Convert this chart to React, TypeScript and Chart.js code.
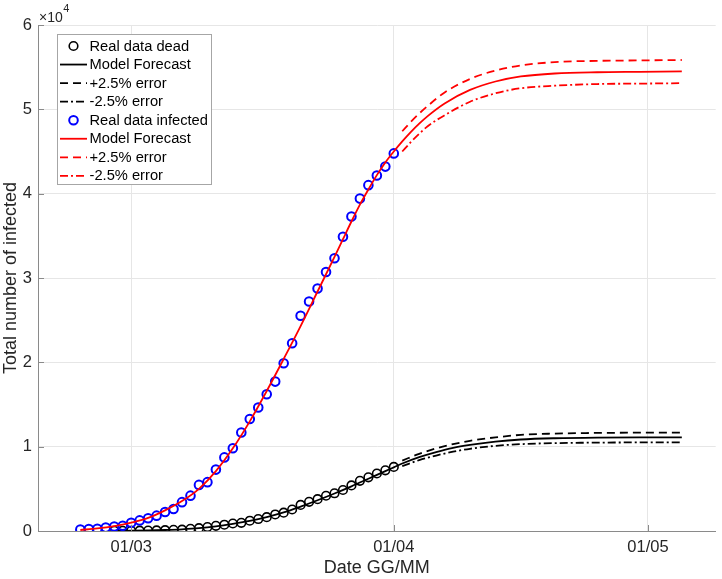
import React, { useEffect, useRef } from "react";
import { Chart, registerables } from "chart.js";

Chart.register(...registerables);

// x values are day offsets from 01/03 (1 March)
const xTickDays = [0, 31, 61];
const xTickLabels = ["01/03", "01/04", "01/05"];
const yTickValues = [0, 10000, 20000, 30000, 40000, 50000, 60000];
const yTickLabels = ["0", "1", "2", "3", "4", "5", "6"];

// Real data, one value per day
const infectedStartDay = -6; // 24/02
const infectedReal = [
  172, 240, 258, 403, 531, 615, 984, 1254, 1520, 1820, 2251, 2612, 3420, 4189,
  5469, 5791, 7280, 8725, 9820, 11685, 13272, 14649, 16220, 17713, 19884, 22264,
  25515, 27206, 28761, 30703, 32346, 34889, 37298, 39415, 41007, 42161, 43208,
  44773,
];
const deadStartDay = -2; // 28/02
const deadReal = [
  17, 23, 24, 38, 55, 73, 98, 135, 154, 267, 333, 468, 617, 744, 890, 966, 1218,
  1420, 1640, 1959, 2168, 2549, 3095, 3456, 3776, 4178, 4474, 4861, 5402, 5944,
  6360, 6818, 7199, 7593,
];

// Model forecasts (infected)
const infModelDays = [
  -6, -4, -2, 0, 2, 4, 6, 8, 10, 12, 14, 16, 18, 20, 22, 24, 25, 26, 27, 28, 29,
  30, 31, 32, 33, 34, 35, 37, 40, 43, 46, 50, 55, 60, 65,
];
const infModel = [
  120, 300, 580, 1000, 1550, 2450, 3550, 5000, 7100, 9800, 13000, 16600, 20400,
  24300, 28400, 32500, 34600, 36700, 38700, 40500, 42200, 43700, 45000, 46200,
  47300, 48300, 49200, 50700, 52300, 53300, 53900, 54250, 54400, 54450, 54500,
];
const infErrDays = [32, 33, 34, 35, 37, 40, 43, 46, 50, 55, 60, 65];
const infPlus = [47400, 48500, 49500, 50400, 52000, 53600, 54600, 55200, 55600, 55750, 55800, 55850];
const infMinus = [45000, 46100, 47100, 48000, 49300, 50900, 51900, 52500, 52800, 53000, 53050, 53100];

// Model forecasts (dead)
const deadModelDays = [
  -2, 0, 2, 4, 6, 8, 10, 12, 14, 16, 18, 20, 22, 24, 26, 28, 30, 31, 32, 34, 36,
  38, 40, 43, 46, 50, 55, 60, 65,
];
const deadModel = [
  20, 40, 70, 120, 200, 330, 550, 850, 1200, 1650, 2200, 2900, 3650, 4450, 5300,
  6200, 7100, 7550, 8000, 8750, 9350, 9850, 10200, 10600, 10850, 11000, 11080,
  11100, 11100,
];
const deadErrDays = [32, 34, 36, 38, 40, 43, 46, 50, 55, 60, 65];
const deadPlus = [8350, 9150, 9800, 10300, 10700, 11100, 11400, 11550, 11630, 11660, 11670];
const deadMinus = [7700, 8400, 8950, 9400, 9750, 10100, 10300, 10420, 10480, 10500, 10500];

const legendLabels = [
  "Real data dead",
  "Model Forecast",
  "+2.5% error",
  "-2.5% error",
  "Real data infected",
  "Model Forecast",
  "+2.5% error",
  "-2.5% error",
];

const FONT = '"Liberation Sans", Arial, Helvetica, sans-serif';
const TEXT = "#262626";
const AXIS = "#8a8a8a";
const GRID = "#e6e6e6";
const DASH = [8, 5];
const DASHDOT = [8, 3, 2, 3];

const toPts = (days: number[], vals: number[]) => days.map((d, i) => ({ x: d, y: vals[i] }));
const seqPts = (start: number, vals: number[]) => vals.map((v, i) => ({ x: start + i, y: v }));

type Style = { color: string; kind: "marker" | "line"; dash: number[]; width: number };
const styles: Style[] = [
  { color: "#000000", kind: "marker", dash: [], width: 1.6 },
  { color: "#000000", kind: "line", dash: [], width: 1.8 },
  { color: "#000000", kind: "line", dash: DASH, width: 1.8 },
  { color: "#000000", kind: "line", dash: DASHDOT, width: 1.8 },
  { color: "#0000ff", kind: "marker", dash: [], width: 2 },
  { color: "#ff0000", kind: "line", dash: [], width: 1.8 },
  { color: "#ff0000", kind: "line", dash: DASH, width: 1.8 },
  { color: "#ff0000", kind: "line", dash: DASHDOT, width: 1.8 },
];

const extras = {
  id: "matlabExtras",
  afterDraw(chart: any) {
    const ctx = chart.ctx as CanvasRenderingContext2D;
    const xs = chart.scales.x;
    const ys = chart.scales.y;
    const area = chart.chartArea;
    ctx.save();
    // inner tick marks
    ctx.strokeStyle = AXIS;
    ctx.lineWidth = 1;
    ctx.beginPath();
    xTickDays.forEach((d) => {
      const px = Math.round(xs.getPixelForValue(d)) + 0.5;
      ctx.moveTo(px, area.bottom);
      ctx.lineTo(px, area.bottom - 6);
    });
    yTickValues.forEach((v) => {
      const py = Math.round(ys.getPixelForValue(v)) + 0.5;
      ctx.moveTo(area.left, py);
      ctx.lineTo(area.left + 6, py);
    });
    ctx.stroke();

    // exponent label
    ctx.fillStyle = TEXT;
    ctx.textBaseline = "alphabetic";
    ctx.textAlign = "left";
    ctx.font = `14px ${FONT}`;
    ctx.fillText("\u00d710", area.left + 1, 21.7);
    const w = ctx.measureText("\u00d710").width;
    ctx.font = `11px ${FONT}`;
    ctx.fillText("4", area.left + 1 + w + 0.5, 12);

    // legend
    const lx = 57.5, ly = 34.5, lw = 154, lh = 150;
    ctx.fillStyle = "#ffffff";
    ctx.fillRect(lx, ly, lw, lh);
    ctx.strokeStyle = "#a6a6a6";
    ctx.lineWidth = 1;
    ctx.strokeRect(lx, ly, lw, lh);
    const rowH = 18.55;
    legendLabels.forEach((label, i) => {
      const st = styles[i];
      const cy = 46 + i * rowH;
      ctx.strokeStyle = st.color;
      ctx.lineWidth = st.width;
      if (st.kind === "marker") {
        ctx.setLineDash([]);
        ctx.beginPath();
        ctx.arc(73.5, cy, 4.3, 0, Math.PI * 2);
        ctx.stroke();
      } else {
        ctx.setLineDash(st.dash);
        ctx.beginPath();
        ctx.moveTo(60, cy);
        ctx.lineTo(87, cy);
        ctx.stroke();
        ctx.setLineDash([]);
      }
      ctx.fillStyle = "#000000";
      ctx.font = `14.7px ${FONT}`;
      ctx.textBaseline = "middle";
      ctx.fillText(label, 89.5, cy + 0.5);
    });
    ctx.restore();
  },
};

export default function App() {
  const ref = useRef<HTMLCanvasElement>(null);
  useEffect(() => {
    document.body.style.margin = "0";
    const canvas = ref.current!;
    const markerSet = (data: any[], st: Style, order: number) => ({
      data,
      showLine: false,
      pointStyle: "circle",
      pointRadius: 4.3,
      pointHoverRadius: 4.3,
      pointBorderWidth: st.width,
      pointBorderColor: st.color,
      pointBackgroundColor: "rgba(0,0,0,0)",
      borderColor: st.color,
      backgroundColor: "rgba(0,0,0,0)",
      order,
    });
    const lineSet = (data: any[], st: Style, order: number) => ({
      data,
      borderColor: st.color,
      backgroundColor: "rgba(0,0,0,0)",
      borderWidth: st.width,
      borderDash: st.dash,
      pointRadius: 0,
      fill: false,
      cubicInterpolationMode: "monotone",
      order,
    });
    const chart = new Chart(canvas, {
      type: "line",
      data: {
        datasets: [
          markerSet(seqPts(deadStartDay, deadReal), styles[0], 8),
          lineSet(toPts(deadModelDays, deadModel), styles[1], 7),
          lineSet(toPts(deadErrDays, deadPlus), styles[2], 6),
          lineSet(toPts(deadErrDays, deadMinus), styles[3], 5),
          markerSet(seqPts(infectedStartDay, infectedReal), styles[4], 4),
          lineSet(toPts(infModelDays, infModel), styles[5], 3),
          lineSet(toPts(infErrDays, infPlus), styles[6], 2),
          lineSet(toPts(infErrDays, infMinus), styles[7], 1),
        ] as any,
      },
      options: {
        animation: false,
        responsive: false,
        maintainAspectRatio: false,
        devicePixelRatio: 1,
        layout: { padding: { top: 25, right: 3, left: 0, bottom: 0 } },
        plugins: { legend: { display: false }, tooltip: { enabled: false } },
        events: [],
        scales: {
          x: {
            type: "linear",
            min: -11,
            max: 69,
            afterBuildTicks: (s: any) => {
              s.ticks = xTickDays.map((v) => ({ value: v }));
            },
            afterFit: (s: any) => {
              s.height = 48;
            },
            ticks: {
              autoSkip: false,
              maxRotation: 0,
              padding: 7,
              color: TEXT,
              font: { family: FONT, size: 16.5 },
              callback: (_v: any, i: number) => xTickLabels[i],
            },
            grid: { color: GRID, drawTicks: false },
            border: { color: AXIS, width: 1 },
            title: {
              display: true,
              text: "Date GG/MM",
              color: TEXT,
              font: { family: FONT, size: 18 },
              padding: { top: 0, bottom: 0 },
            },
          },
          y: {
            type: "linear",
            min: 0,
            max: 60000,
            afterBuildTicks: (s: any) => {
              s.ticks = yTickValues.map((v) => ({ value: v }));
            },
            afterFit: (s: any) => {
              s.width = 38;
            },
            ticks: {
              padding: 6,
              color: TEXT,
              font: { family: FONT, size: 16.5 },
              callback: (_v: any, i: number) => yTickLabels[i],
            },
            grid: { color: GRID, drawTicks: false },
            border: { color: AXIS, width: 1 },
            title: {
              display: true,
              text: "Total number of infected",
              color: TEXT,
              font: { family: FONT, size: 18 },
              padding: { top: 0, bottom: 0 },
            },
          },
        },
      } as any,
      plugins: [extras],
    });
    return () => chart.destroy();
  }, []);
  return (
    <div style={{ width: 722, height: 579, position: "relative" }}>
      <canvas ref={ref} width={722} height={579} style={{ display: "block" }} />
    </div>
  );
}
